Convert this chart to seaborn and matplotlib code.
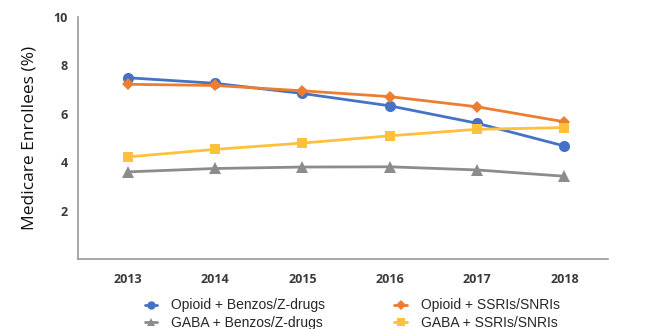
import numpy as np
import pandas as pd
import matplotlib
matplotlib.use("Agg")
import matplotlib.pyplot as plt
import seaborn as sns

sns.set_style("white")
plt.rcParams['font.family'] = ['Open Sans', 'DejaVu Sans']

anios = ['2013', '2014', '2015', '2016', '2017', '2018']
opioid_benzos = [7.49, 7.26, 6.84, 6.33, 5.61, 4.67]
opioid_ssri = [7.22, 7.17, 6.95, 6.71, 6.29, 5.67]
gaba_benzos = [3.60, 3.74, 3.80, 3.81, 3.68, 3.42]
gaba_ssri = [4.22, 4.53, 4.79, 5.09, 5.36, 5.43]

series = {
    'Opioid + Benzos/Z-drugs': opioid_benzos,
    'Opioid + SSRIs/SNRIs': opioid_ssri,
    'GABA + Benzos/Z-drugs': gaba_benzos,
    'GABA + SSRIs/SNRIs': gaba_ssri,
}
colores = {
    'Opioid + Benzos/Z-drugs': '#4472C4',
    'Opioid + SSRIs/SNRIs': '#ED7D31',
    'GABA + Benzos/Z-drugs': '#8C8C8C',
    'GABA + SSRIs/SNRIs': '#FFC13D',
}
marcadores = {
    'Opioid + Benzos/Z-drugs': 'o',
    'Opioid + SSRIs/SNRIs': 'D',
    'GABA + Benzos/Z-drugs': '^',
    'GABA + SSRIs/SNRIs': 's',
}
tam_marcador = {'o': 8, 'D': 6.3, '^': 8, 's': 7.5}

df = pd.concat([pd.DataFrame({'pos': range(len(anios)), 'valor': v, 'serie': k})
                for k, v in series.items()])

fig = plt.figure(figsize=(6.7, 3.29), dpi=100)
ax = fig.add_axes([78 / 670, 1 - 259 / 329, (608 - 78) / 670, (259 - 17) / 329])

sns.lineplot(data=df, x='pos', y='valor', hue='serie', style='serie',
             palette=colores, markers=marcadores, dashes=False,
             linewidth=2, markersize=8, markeredgewidth=0, ax=ax, legend=False)

# ajustar tamaño de cada marcador
for linea in ax.lines:
    m = linea.get_marker()
    if m in tam_marcador:
        linea.set_markersize(tam_marcador[m])

ax.set_xlim(-0.57, 5.5)
ax.set_ylim(0, 10)
ax.set_xticks(np.arange(-0.5, 5.6, 1.0))
ax.set_xticklabels([])
ax.set_xticks(range(len(anios)), minor=True)
ax.set_xticklabels(anios, minor=True, fontsize=9, fontweight='bold', color='#3a3a3a')
ax.set_yticks([2, 4, 6, 8, 10])
ax.set_yticklabels(['2', '4', '6', '8', '10'], fontsize=9, fontweight='bold', color='#3a3a3a')
ax.set_yticks([1, 3, 5, 7, 9], minor=True)
ax.tick_params(axis='both', which='both', direction='out', length=4, width=1, color='#999999')
ax.tick_params(axis='x', which='minor', pad=6)
ax.set_xlabel('')
ax.set_ylabel('Medicare Enrollees (%)', fontsize=12.5, color='#111111', labelpad=11)

for lado in ['top', 'right']:
    ax.spines[lado].set_visible(False)
for lado in ['left', 'bottom']:
    ax.spines[lado].set_color('#999999')
    ax.spines[lado].set_linewidth(1.2)

orden = ['Opioid + Benzos/Z-drugs', 'GABA + Benzos/Z-drugs',
         'Opioid + SSRIs/SNRIs', 'GABA + SSRIs/SNRIs']
handles = [plt.Line2D([], [], color=colores[n], marker=marcadores[n], linewidth=2,
                      markersize=tam_marcador[marcadores[n]] * 0.75, markeredgewidth=0)
           for n in orden]
fig.legend(handles, orden, loc='upper left', bbox_to_anchor=(132 / 670, 1 - 286 / 329),
           ncol=2, frameon=False, handlelength=0.9, columnspacing=5.0,
           labelspacing=0.25, handletextpad=1.0,
           prop={'family': ['Liberation Sans', 'DejaVu Sans'], 'size': 10})

fig.savefig('out.png', dpi=100)
